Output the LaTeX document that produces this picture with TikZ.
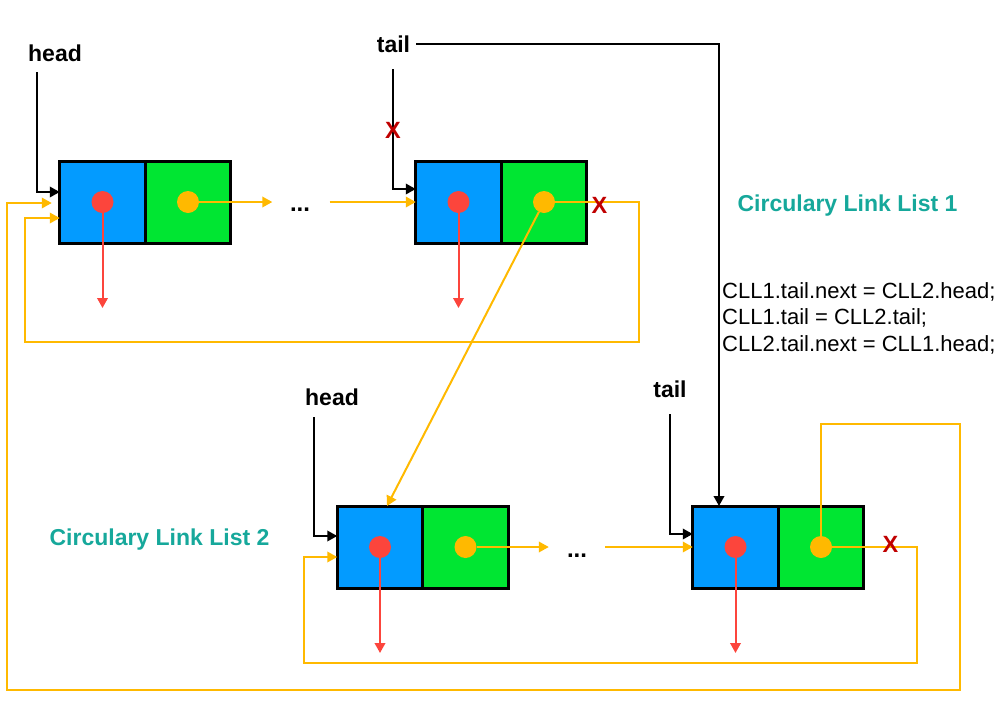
\documentclass[tikz,border=0pt]{standalone}
\usepackage{fontspec}
\setmainfont{Liberation Sans}
\usetikzlibrary{arrows.meta}

\definecolor{cellblue}{RGB}{3,155,255}
\definecolor{cellgreen}{RGB}{0,230,50}
\definecolor{refred}{RGB}{252,69,60}
\definecolor{linkorange}{RGB}{255,185,0}
\definecolor{titleteal}{RGB}{22,168,155}
\definecolor{cutred}{RGB}{192,0,0}

\begin{document}
\begin{tikzpicture}[x=1pt,y=-1pt,
  cell/.style={draw=black, line width=3pt, minimum width=85.5pt, minimum height=82pt, inner sep=0pt, outer sep=0pt},
  datacell/.style={cell, fill=cellblue},
  nextcell/.style={cell, fill=cellgreen},
  refdot/.style={circle, fill=refred, minimum size=22pt, inner sep=0pt, outer sep=0pt},
  nextdot/.style={circle, fill=linkorange, minimum size=22pt, inner sep=0pt, outer sep=0pt},
  ptrname/.style={font=\fontsize{23}{27}\selectfont\bfseries, inner sep=0pt, anchor=base},
  ellipsis/.style={font=\fontsize{24}{28}\selectfont\bfseries, inner sep=0pt, anchor=base},
  title/.style={font=\fontsize{23}{27}\selectfont\bfseries, text=titleteal, inner sep=0pt, anchor=base},
  code/.style={font=\fontsize{22}{26}\selectfont, inner sep=0pt, anchor=base west},
  cut/.style={font=\fontsize{23.5}{27}\selectfont\bfseries, text=cutred, inner sep=0pt},
  tip/.style={-{Triangle[length=10pt,width=10.5pt]}},
  ptr/.style={tip, draw=black, line width=2pt},
  link/.style={tip, draw=linkorange, line width=2pt},
  nullptr/.style={tip, draw=refred, line width=2pt}
]
\useasboundingbox (0,0) rectangle (1002,702);

% ---- list 1 ----
\node[datacell] (Ad) at (102.5,202) {};
\node[nextcell] (An) at (188,202) {};
\node[refdot]   (Ar) at (Ad) {};
\node[nextdot]  (Ao) at (An) {};

\node[datacell] (Bd) at (458.5,202) {};
\node[nextcell] (Bn) at (544,202) {};
\node[refdot]   (Br) at (Bd) {};
\node[nextdot]  (Bo) at (Bn) {};

% ---- list 2 ----
\node[datacell] (Cd) at (380,547) {};
\node[nextcell] (Cn) at (465.5,547) {};
\node[refdot]   (Cr) at (Cd) {};
\node[nextdot]  (Co) at (Cn) {};

\node[datacell] (Dd) at (735.5,547) {};
\node[nextcell] (Dn) at (821,547) {};
\node[refdot]   (Dr) at (Dd) {};
\node[nextdot]  (Do) at (Dn) {};

% ---- elided middle nodes ----
\node[ellipsis, minimum width=57pt] (dots1) at (300,211) {...};
\node[ellipsis, minimum width=56pt] (dots2) at (577,557) {...};

% ---- labels ----
\node[ptrname] (head1) at (55,61) {head};
\node[ptrname] (tail1) at (393.5,52) {tail};
\node[ptrname] (head2) at (332,405) {head};
\node[ptrname] (tail2) at (670,397) {tail};

\node[title] (cll1) at (847.5,211) {Circulary Link List 1};
\node[title] (cll2) at (159.5,545) {Circulary Link List 2};

\node[code] (code1) at (722,298) {CLL1.tail.next = CLL2.head;};
\node[code] (code2) at (722,324.5) {CLL1.tail = CLL2.tail;};
\node[code] (code3) at (722,351) {CLL2.tail.next = CLL1.head;};

\coordinate (h1) at (37,72);
\coordinate (t1) at (393,69);
\coordinate (h2) at (314,417);
\coordinate (t2) at (670,414);

% ---- head / tail pointers ----
\draw[ptr] (h1) |- ([yshift=10pt]Ad.west);
\draw[ptr] (t1) |- ([yshift=13pt]Bd.west);
\draw[ptr] ([xshift=6pt]tail1.east) -| ([xshift=-16.5pt]Dd.north);
\draw[ptr] (h2) |- ([yshift=11pt]Cd.west);
\draw[ptr] (t2) |- ([yshift=13pt]Dd.west);

% ---- data references ----
\draw[nullptr] (Ar) -- ([yshift=-106pt]Ar.center);
\draw[nullptr] (Br) -- ([yshift=-106pt]Br.center);
\draw[nullptr] (Cr) -- ([yshift=-106pt]Cr.center);
\draw[nullptr] (Dr) -- ([yshift=-106pt]Dr.center);

% ---- next links ----
\draw[link] (Ao) -- ([xshift=1pt]Ao -| dots1.west);
\draw[link] ([xshift=1pt]dots1.east |- Bd.west) -- (Bd.west);
\draw[link] (Bo) -| (639,342) -| (25,218) -- ([yshift=-16pt]Ad.west);
\draw[link] (Bo) -- ([xshift=7pt]Cd.north);

\draw[link] (Co) -- (Co -| dots2.west);
\draw[link] (dots2.east |- Dd.west) -- (Dd.west);
\draw[link] (Do) -| (917,663) -| (304,557) -- ([yshift=-10pt]Cd.west);
\draw[link] (Do) |- (960,424) |- (7,690) |- ([xshift=-8pt,yshift=-1pt]Ad.west);

% ---- removed links ----
\node[cut] (x1) at (393,130) {X};
\node[cut] (x2) at (599.5,205) {X};
\node[cut] (x3) at (890.5,544) {X};

\end{tikzpicture}
\end{document}
